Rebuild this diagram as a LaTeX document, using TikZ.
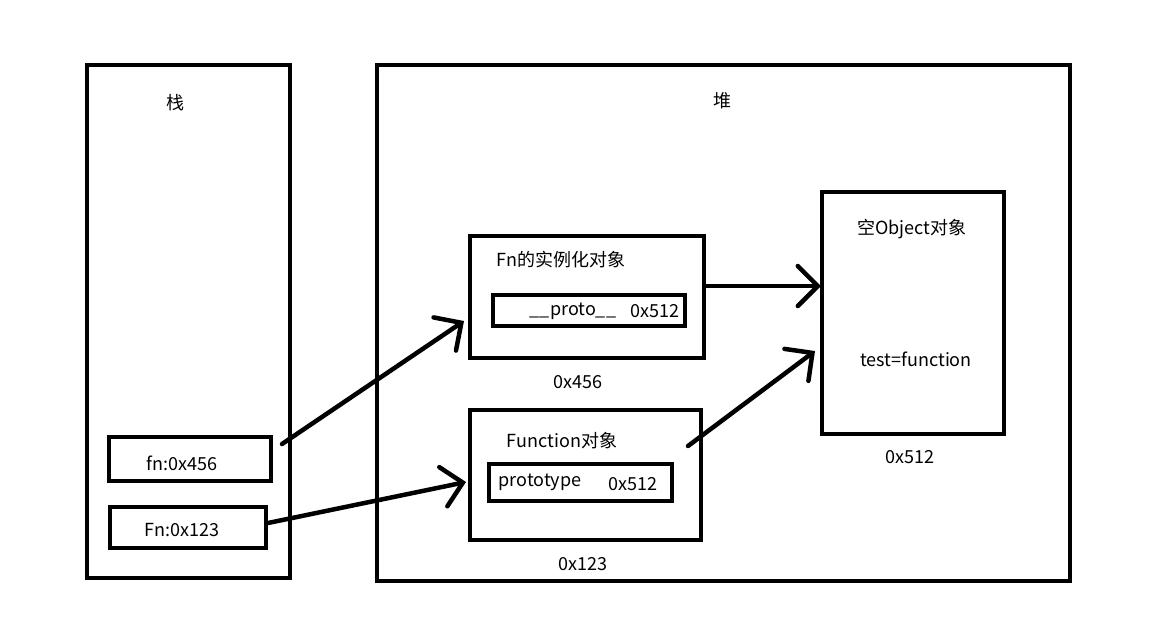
\documentclass[tikz,border=0pt]{standalone}
\usepackage{fontspec}
\setmainfont{Noto Sans CJK SC}
\usetikzlibrary{arrows.meta}
\begin{document}
\begin{tikzpicture}[x=1pt,y=-1pt,
  box/.style={draw=black,line width=4pt,inner sep=0pt,outer sep=0pt,rectangle},
  lbl/.style={inner sep=0pt,font=\fontsize{18}{21}\selectfont},
  ptr/.style={line width=4.5pt,line cap=round,-{Straight Barb[length=20pt,width=40pt,line cap=round]}}]
\useasboundingbox[fill=white] (0,0) rectangle (1163,641);
% containers
\node[box,minimum width=203pt,minimum height=513pt] (stack) at (188.5,321.5) {};
\node[box,minimum width=693pt,minimum height=516pt] (heap) at (723.5,323) {};
\node[lbl] (stacklbl) at (175,103) {栈};
\node[lbl] (heaplbl) at (722,101) {堆};
% stack entries
\node[box,minimum width=162pt,minimum height=44pt] (fnvar) at (190,459) {};
\node[lbl] (fnvarlbl) at (182,463) {fn:0x456};
\node[box,minimum width=156pt,minimum height=41pt] (Fnvar) at (188,527.5) {};
\node[lbl] (Fnvarlbl) at (182,530) {Fn:0x123};
% Fn instance
\node[box,minimum width=234pt,minimum height=122pt] (inst) at (587,297) {};
\node[lbl] (instlbl) at (561,260) {Fn的实例化对象};
\node[box,minimum width=192pt,minimum height=31pt] (proto) at (589,310.5) {};
\node[lbl] (protolbl) at (573,311) {\_\_proto\_\_};
\node[lbl] (protoval) at (655,311) {0x512};
\node[lbl] (instaddr) at (578,382) {0x456};
% Function object
\node[box,minimum width=231pt,minimum height=130pt] (func) at (585.5,475) {};
\node[lbl] (funclbl) at (562,441) {Function对象};
\node[box,minimum width=183pt,minimum height=37pt] (ptype) at (580.5,482.5) {};
\node[lbl] (ptypelbl) at (540,482) {prototype};
\node[lbl] (ptypeval) at (633,484) {0x512};
\node[lbl] (funcaddr) at (583,564) {0x123};
% empty object
\node[box,minimum width=182pt,minimum height=242pt] (obj) at (913,313) {};
\node[lbl] (objlbl) at (912,229) {空Object对象};
\node[lbl] (objtest) at (916,359) {test=function};
\node[lbl] (objaddr) at (910,457) {0x512};
% connector ends
\coordinate (a1s) at (282,444);
\coordinate (a1e) at (464,321);
\coordinate (a2s) at (268,523);
\coordinate (a2e) at (466,482);
\coordinate (a3s) at (706,286);
\coordinate (a3e) at (821,286);
\coordinate (a4s) at (688,446);
\coordinate (a4e) at (815,351);
\draw[ptr] (a1s) -- (a1e);
\draw[ptr] (a2s) -- (a2e);
\draw[ptr] (a3s) -- (a3e);
\draw[ptr] (a4s) -- (a4e);
\end{tikzpicture}
\end{document}
